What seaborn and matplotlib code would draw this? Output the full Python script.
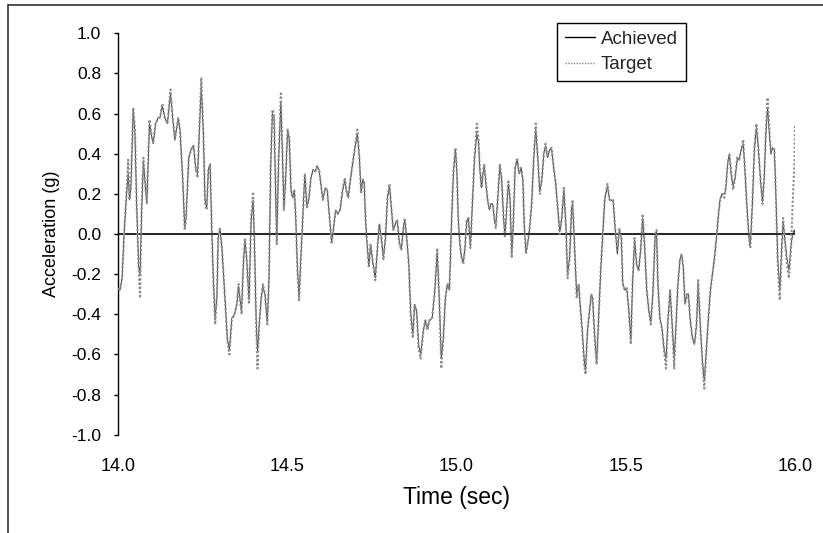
import matplotlib
matplotlib.use("Agg")
import matplotlib.pyplot as plt
import pandas as pd
import seaborn as sns
from matplotlib.lines import Line2D

time_s = [
    14.000, 14.006, 14.012, 14.018, 14.024, 14.030, 14.034, 14.038, 14.045, 14.050,
    14.055, 14.061, 14.065, 14.070, 14.075, 14.081, 14.085, 14.093, 14.100, 14.104,
    14.111, 14.119, 14.124, 14.131, 14.138, 14.146, 14.155, 14.162, 14.168, 14.178,
    14.183, 14.191, 14.197, 14.201, 14.209, 14.218, 14.223, 14.230, 14.235, 14.240,
    14.246, 14.252, 14.257, 14.262, 14.267, 14.272, 14.277, 14.282, 14.287, 14.292,
    14.296, 14.301, 14.307, 14.316, 14.323, 14.329,
    14.336, 14.344, 14.351, 14.356, 14.360, 14.365, 14.370, 14.375, 14.380, 14.387,
    14.393, 14.399, 14.403, 14.408, 14.412, 14.417, 14.423, 14.428, 14.434, 14.441,
    14.446, 14.451, 14.456, 14.461, 14.466, 14.469, 14.474, 14.481, 14.486, 14.490,
    14.495, 14.501, 14.506, 14.511, 14.516, 14.521, 14.525, 14.530, 14.535, 14.540,
    14.545, 14.549, 14.552, 14.558, 14.564, 14.570, 14.576, 14.582, 14.588, 14.594,
    14.599, 14.605, 14.612, 14.618, 14.625, 14.631, 14.636, 14.643, 14.649,
    14.656, 14.664, 14.670, 14.674, 14.680, 14.685, 14.693, 14.700, 14.707, 14.713,
    14.718, 14.723, 14.727, 14.731, 14.735, 14.741, 14.746, 14.752, 14.760, 14.766,
    14.772, 14.778, 14.784, 14.790, 14.796, 14.802, 14.808, 14.813, 14.819, 14.825,
    14.831, 14.837, 14.843, 14.847, 14.853, 14.859, 14.865, 14.871, 14.876, 14.882,
    14.888, 14.894, 14.902, 14.908, 14.914, 14.920, 14.928, 14.936, 14.943, 14.949,
    14.955, 14.961, 14.967, 14.973, 14.979, 14.985, 14.991, 14.997,
    15.001, 15.005, 15.010, 15.015, 15.020, 15.025, 15.030, 15.035, 15.041, 15.047,
    15.053, 15.060, 15.065, 15.069, 15.074, 15.078, 15.082, 15.088, 15.092, 15.097,
    15.102, 15.107, 15.112, 15.116, 15.122, 15.128, 15.133, 15.139, 15.143, 15.148,
    15.153, 15.158, 15.163, 15.167, 15.173, 15.179, 15.185, 15.191, 15.196, 15.200,
    15.205, 15.210, 15.216, 15.222, 15.228, 15.234, 15.240, 15.246, 15.252, 15.258,
    15.263, 15.269, 15.275, 15.281, 15.287, 15.293, 15.299, 15.305, 15.311, 15.317,
    15.323, 15.328, 15.334, 15.340,
    15.343, 15.349, 15.355, 15.361, 15.365, 15.371, 15.377, 15.381, 15.387, 15.392,
    15.398, 15.402, 15.408, 15.414, 15.419, 15.426, 15.432, 15.438, 15.446, 15.452,
    15.457, 15.463, 15.469, 15.475, 15.481, 15.487, 15.491, 15.497, 15.503, 15.509,
    15.515, 15.520, 15.526, 15.532, 15.538, 15.544, 15.550, 15.556, 15.562, 15.568,
    15.574, 15.580, 15.587, 15.591, 15.595, 15.601, 15.607, 15.613, 15.619, 15.625,
    15.631, 15.637, 15.643, 15.648, 15.654, 15.660, 15.665, 15.670,
    15.675, 15.681, 15.685, 15.690, 15.697, 15.703, 15.709, 15.714, 15.720, 15.726,
    15.730, 15.732, 15.738, 15.744, 15.750, 15.756, 15.762, 15.769, 15.774, 15.779,
    15.785, 15.791, 15.795, 15.801, 15.806, 15.811, 15.817, 15.823, 15.829, 15.835,
    15.841, 15.847, 15.852, 15.858, 15.864, 15.868, 15.874, 15.880, 15.886, 15.892,
    15.898, 15.904, 15.909, 15.914, 15.919, 15.925, 15.929, 15.933, 15.939, 15.943,
    15.949, 15.955, 15.961, 15.965, 15.970, 15.976, 15.982, 15.988, 15.993, 15.998,
    16.000,
]

target_g = [
    -0.27, -0.28, -0.22, 0.00, 0.17, 0.37, 0.17, 0.23, 0.63, 0.52,
    0.15, -0.18, -0.32, 0.15, 0.38, 0.23, 0.15, 0.57, 0.48, 0.45,
    0.55, 0.58, 0.58, 0.65, 0.58, 0.55, 0.72, 0.57, 0.47, 0.58,
    0.52, 0.28, 0.02, 0.08, 0.38, 0.43, 0.44, 0.32, 0.28, 0.52,
    0.78, 0.52, 0.15, 0.12, 0.32, 0.35, 0.02, -0.25, -0.45, -0.32,
    -0.02, 0.03, -0.07, -0.32, -0.53, -0.60,
    -0.43, -0.40, -0.35, -0.25, -0.32, -0.40, -0.15, -0.02, -0.12, -0.35,
    0.07, 0.21, -0.05, -0.45, -0.67, -0.45, -0.32, -0.25, -0.30, -0.45,
    -0.23, 0.35, 0.62, 0.60, 0.18, -0.05, 0.35, 0.70, 0.38, 0.12,
    0.27, 0.52, 0.48, 0.22, 0.18, 0.22, 0.08, -0.18, -0.33, -0.12,
    0.05, 0.20, 0.30, 0.13, 0.18, 0.28, 0.32, 0.31, 0.33, 0.32,
    0.25, 0.17, 0.23, 0.22, 0.08, -0.05, 0.02, 0.12, 0.10,
    0.12, 0.23, 0.28, 0.22, 0.18, 0.25, 0.35, 0.43, 0.52, 0.38,
    0.20, 0.27, 0.27, 0.08, -0.03, -0.17, -0.05, -0.13, -0.23, -0.08,
    0.05, -0.02, -0.13, -0.02, 0.18, 0.25, 0.12, 0.02, 0.05, 0.07,
    -0.05, -0.08, 0.03, 0.08, -0.02, -0.15, -0.42, -0.52, -0.35, -0.38,
    -0.57, -0.62, -0.48, -0.43, -0.48, -0.43, -0.42, -0.28, -0.07, -0.32,
    -0.67, -0.52, -0.32, -0.25, -0.28, 0.05, 0.32, 0.43,
    0.32, 0.08, -0.05, -0.12, -0.15, -0.07, 0.07, 0.08, -0.07, 0.15,
    0.38, 0.55, 0.47, 0.32, 0.23, 0.30, 0.35, 0.23, 0.17, 0.12,
    0.15, 0.15, 0.07, 0.03, 0.18, 0.35, 0.28, 0.08, -0.02, 0.12,
    0.27, 0.18, -0.12, 0.02, 0.33, 0.38, 0.30, 0.33, 0.27, 0.05,
    -0.10, -0.05, 0.03, 0.15, 0.38, 0.55, 0.38, 0.20, 0.27, 0.40,
    0.45, 0.38, 0.42, 0.43, 0.33, 0.25, 0.13, 0.00, 0.08, 0.23,
    0.05, -0.22, -0.12, 0.13,
    0.17, -0.07, -0.32, -0.25, -0.35, -0.48, -0.65, -0.70, -0.48, -0.40,
    -0.30, -0.32, -0.52, -0.65, -0.45, -0.18, 0.00, 0.18, 0.25, 0.17,
    0.17, 0.17, 0.02, -0.08, 0.03, -0.02, -0.25, -0.28, -0.27, -0.38,
    -0.55, -0.25, -0.02, -0.15, -0.18, -0.08, 0.10, -0.07, -0.28, -0.38,
    -0.45, -0.30, 0.00, 0.02, -0.25, -0.43, -0.47, -0.58, -0.67, -0.42,
    -0.28, -0.45, -0.67, -0.47, -0.25, -0.13, -0.10, -0.17,
    -0.35, -0.30, -0.30, -0.42, -0.52, -0.55, -0.45, -0.23, -0.45, -0.63,
    -0.72, -0.77, -0.58, -0.42, -0.28, -0.20, -0.12, 0.00, 0.10, 0.17,
    0.20, 0.18, 0.22, 0.35, 0.40, 0.32, 0.22, 0.28, 0.38, 0.37,
    0.42, 0.47, 0.32, 0.13, -0.02, -0.07, 0.15, 0.43, 0.55, 0.42,
    0.27, 0.15, 0.28, 0.52, 0.68, 0.50, 0.40, 0.43, 0.42, 0.22,
    -0.15, -0.33, -0.07, 0.08, -0.03, -0.15, -0.22, -0.08, 0.15, 0.35,
    0.55,
]

achieved_g = [
    -0.27, -0.28, -0.22, 0.00, 0.17, 0.30, 0.17, 0.23, 0.62, 0.50,
    0.15, -0.16, -0.20, 0.12, 0.36, 0.23, 0.15, 0.55, 0.48, 0.45,
    0.55, 0.58, 0.58, 0.64, 0.58, 0.55, 0.70, 0.57, 0.47, 0.58,
    0.52, 0.28, 0.03, 0.08, 0.38, 0.43, 0.44, 0.32, 0.30, 0.50,
    0.74, 0.50, 0.17, 0.13, 0.32, 0.35, 0.02, -0.24, -0.42, -0.32,
    -0.02, 0.03, -0.07, -0.32, -0.52, -0.58,
    -0.42, -0.40, -0.35, -0.26, -0.32, -0.39, -0.16, -0.03, -0.12, -0.33,
    0.06, 0.17, -0.04, -0.42, -0.59, -0.45, -0.32, -0.26, -0.30, -0.44,
    -0.22, 0.33, 0.60, 0.58, 0.17, -0.04, 0.34, 0.66, 0.38, 0.12,
    0.27, 0.52, 0.47, 0.22, 0.18, 0.22, 0.08, -0.17, -0.32, -0.12,
    0.05, 0.20, 0.30, 0.13, 0.18, 0.28, 0.32, 0.31, 0.34, 0.32,
    0.25, 0.17, 0.23, 0.22, 0.08, -0.04, 0.02, 0.12, 0.10,
    0.12, 0.22, 0.27, 0.22, 0.18, 0.25, 0.35, 0.43, 0.50, 0.38,
    0.21, 0.27, 0.26, 0.08, -0.03, -0.16, -0.05, -0.13, -0.22, -0.08,
    0.05, -0.02, -0.12, -0.02, 0.18, 0.24, 0.12, 0.02, 0.05, 0.07,
    -0.04, -0.08, 0.03, 0.07, -0.02, -0.15, -0.40, -0.50, -0.35, -0.38,
    -0.55, -0.60, -0.48, -0.43, -0.47, -0.43, -0.42, -0.28, -0.09, -0.32,
    -0.62, -0.52, -0.32, -0.25, -0.28, 0.05, 0.31, 0.42,
    0.31, 0.08, -0.05, -0.12, -0.14, -0.07, 0.06, 0.08, -0.06, 0.15,
    0.37, 0.50, 0.46, 0.32, 0.23, 0.30, 0.34, 0.23, 0.17, 0.12,
    0.15, 0.15, 0.07, 0.04, 0.18, 0.34, 0.28, 0.08, -0.01, 0.12,
    0.25, 0.18, -0.10, 0.02, 0.32, 0.37, 0.30, 0.33, 0.27, 0.05,
    -0.09, -0.05, 0.03, 0.15, 0.37, 0.52, 0.38, 0.21, 0.27, 0.40,
    0.44, 0.38, 0.42, 0.42, 0.33, 0.25, 0.13, 0.01, 0.08, 0.22,
    0.05, -0.20, -0.12, 0.13,
    0.15, -0.07, -0.30, -0.25, -0.35, -0.47, -0.62, -0.68, -0.48, -0.40,
    -0.30, -0.32, -0.50, -0.64, -0.45, -0.18, 0.00, 0.17, 0.24, 0.17,
    0.17, 0.16, 0.02, -0.10, 0.02, -0.02, -0.24, -0.28, -0.27, -0.38,
    -0.53, -0.25, -0.03, -0.15, -0.18, -0.08, 0.08, -0.07, -0.28, -0.38,
    -0.44, -0.30, 0.00, 0.01, -0.25, -0.42, -0.47, -0.57, -0.62, -0.42,
    -0.28, -0.45, -0.62, -0.47, -0.25, -0.13, -0.10, -0.17,
    -0.35, -0.30, -0.30, -0.42, -0.52, -0.55, -0.45, -0.25, -0.45, -0.62,
    -0.70, -0.73, -0.58, -0.42, -0.28, -0.20, -0.12, 0.00, 0.10, 0.18,
    0.20, 0.20, 0.22, 0.35, 0.40, 0.30, 0.24, 0.28, 0.37, 0.37,
    0.42, 0.45, 0.32, 0.14, -0.02, -0.06, 0.15, 0.42, 0.53, 0.42,
    0.27, 0.16, 0.28, 0.50, 0.63, 0.48, 0.40, 0.43, 0.42, 0.22,
    -0.12, -0.28, -0.06, 0.06, -0.03, -0.12, -0.18, -0.06, 0.00, 0.02,
    0.00,
]

x_ticks = [14.0, 14.5, 15.0, 15.5, 16.0]
y_ticks = [-1.0, -0.8, -0.6, -0.4, -0.2, 0.0, 0.2, 0.4, 0.6, 0.8, 1.0]
series_names = ["Achieved", "Target"]

assert len(time_s) == len(target_g) == len(achieved_g)

sns.set_theme(style="white")
plt.rcParams["font.family"] = ["Liberation Sans", "DejaVu Sans"]

df = pd.DataFrame({"Time": time_s, series_names[0]: achieved_g, series_names[1]: target_g})

fig = plt.figure(figsize=(8.23, 5.33), dpi=100)
fig.patch.set_facecolor("white")
ax = fig.add_axes([0.1434, 0.1844, 0.8226, 0.7531])

ax.axhline(0, color="black", lw=1.2, zorder=1)
sns.lineplot(data=df, x="Time", y=series_names[0], ax=ax, color="#222222",
             lw=0.6, label=series_names[0], sort=False, zorder=2)
sns.lineplot(data=df, x="Time", y=series_names[1], ax=ax, color="#8a8a8a",
             lw=1.5, linestyle=(0, (1, 1)), label=series_names[1], sort=False,
             zorder=3)

ax.set_xlim(14.0, 16.0)
ax.set_ylim(-1.0, 1.0)
ax.set_xticks(x_ticks)
ax.set_xticklabels([f"{v:.1f}" for v in x_ticks])
ax.set_yticks(y_ticks)
ax.set_yticklabels([f"{v:.1f}" for v in y_ticks])

for s in ["top", "right", "bottom"]:
    ax.spines[s].set_visible(False)
ax.spines["left"].set_color("black")
ax.spines["left"].set_linewidth(1.0)

ax.tick_params(axis="y", direction="out", length=3, width=1, color="black",
               pad=9, labelsize=12.5, labelcolor="black", left=True)
ax.tick_params(axis="x", length=0, pad=17, labelsize=13, labelcolor="black")

ax.set_xlabel("Time (sec)", fontsize=16.5, color="black")
ax.xaxis.set_label_coords(0.5, -0.128)
ax.set_ylabel("Acceleration (g)", fontsize=13, color="black")
ax.yaxis.set_label_coords(-0.085, 0.5)

leg = ax.legend(loc="upper left", bbox_to_anchor=(557 / 823, 1 - 23 / 533),
                bbox_transform=fig.transFigure, frameon=True, fancybox=False,
                edgecolor="black", framealpha=1, fontsize=13.5, handlelength=1.6,
                borderpad=0.4, labelspacing=0.45, handletextpad=0.35,
                borderaxespad=0)
leg.get_frame().set_linewidth(1.0)
leg.get_lines()[0].set_linewidth(1.0)
leg.get_lines()[0].set_color("black")
leg.get_lines()[1].set_linewidth(1.0)

fig.add_artist(Line2D([8 / 823, 1.0], [1 - 5 / 533, 1 - 5 / 533],
                      transform=fig.transFigure, color="#333333", lw=1.2))
fig.add_artist(Line2D([8 / 823, 8 / 823], [0.0, 1 - 5 / 533],
                      transform=fig.transFigure, color="#333333", lw=1.2))

fig.savefig("out.png", dpi=100)
